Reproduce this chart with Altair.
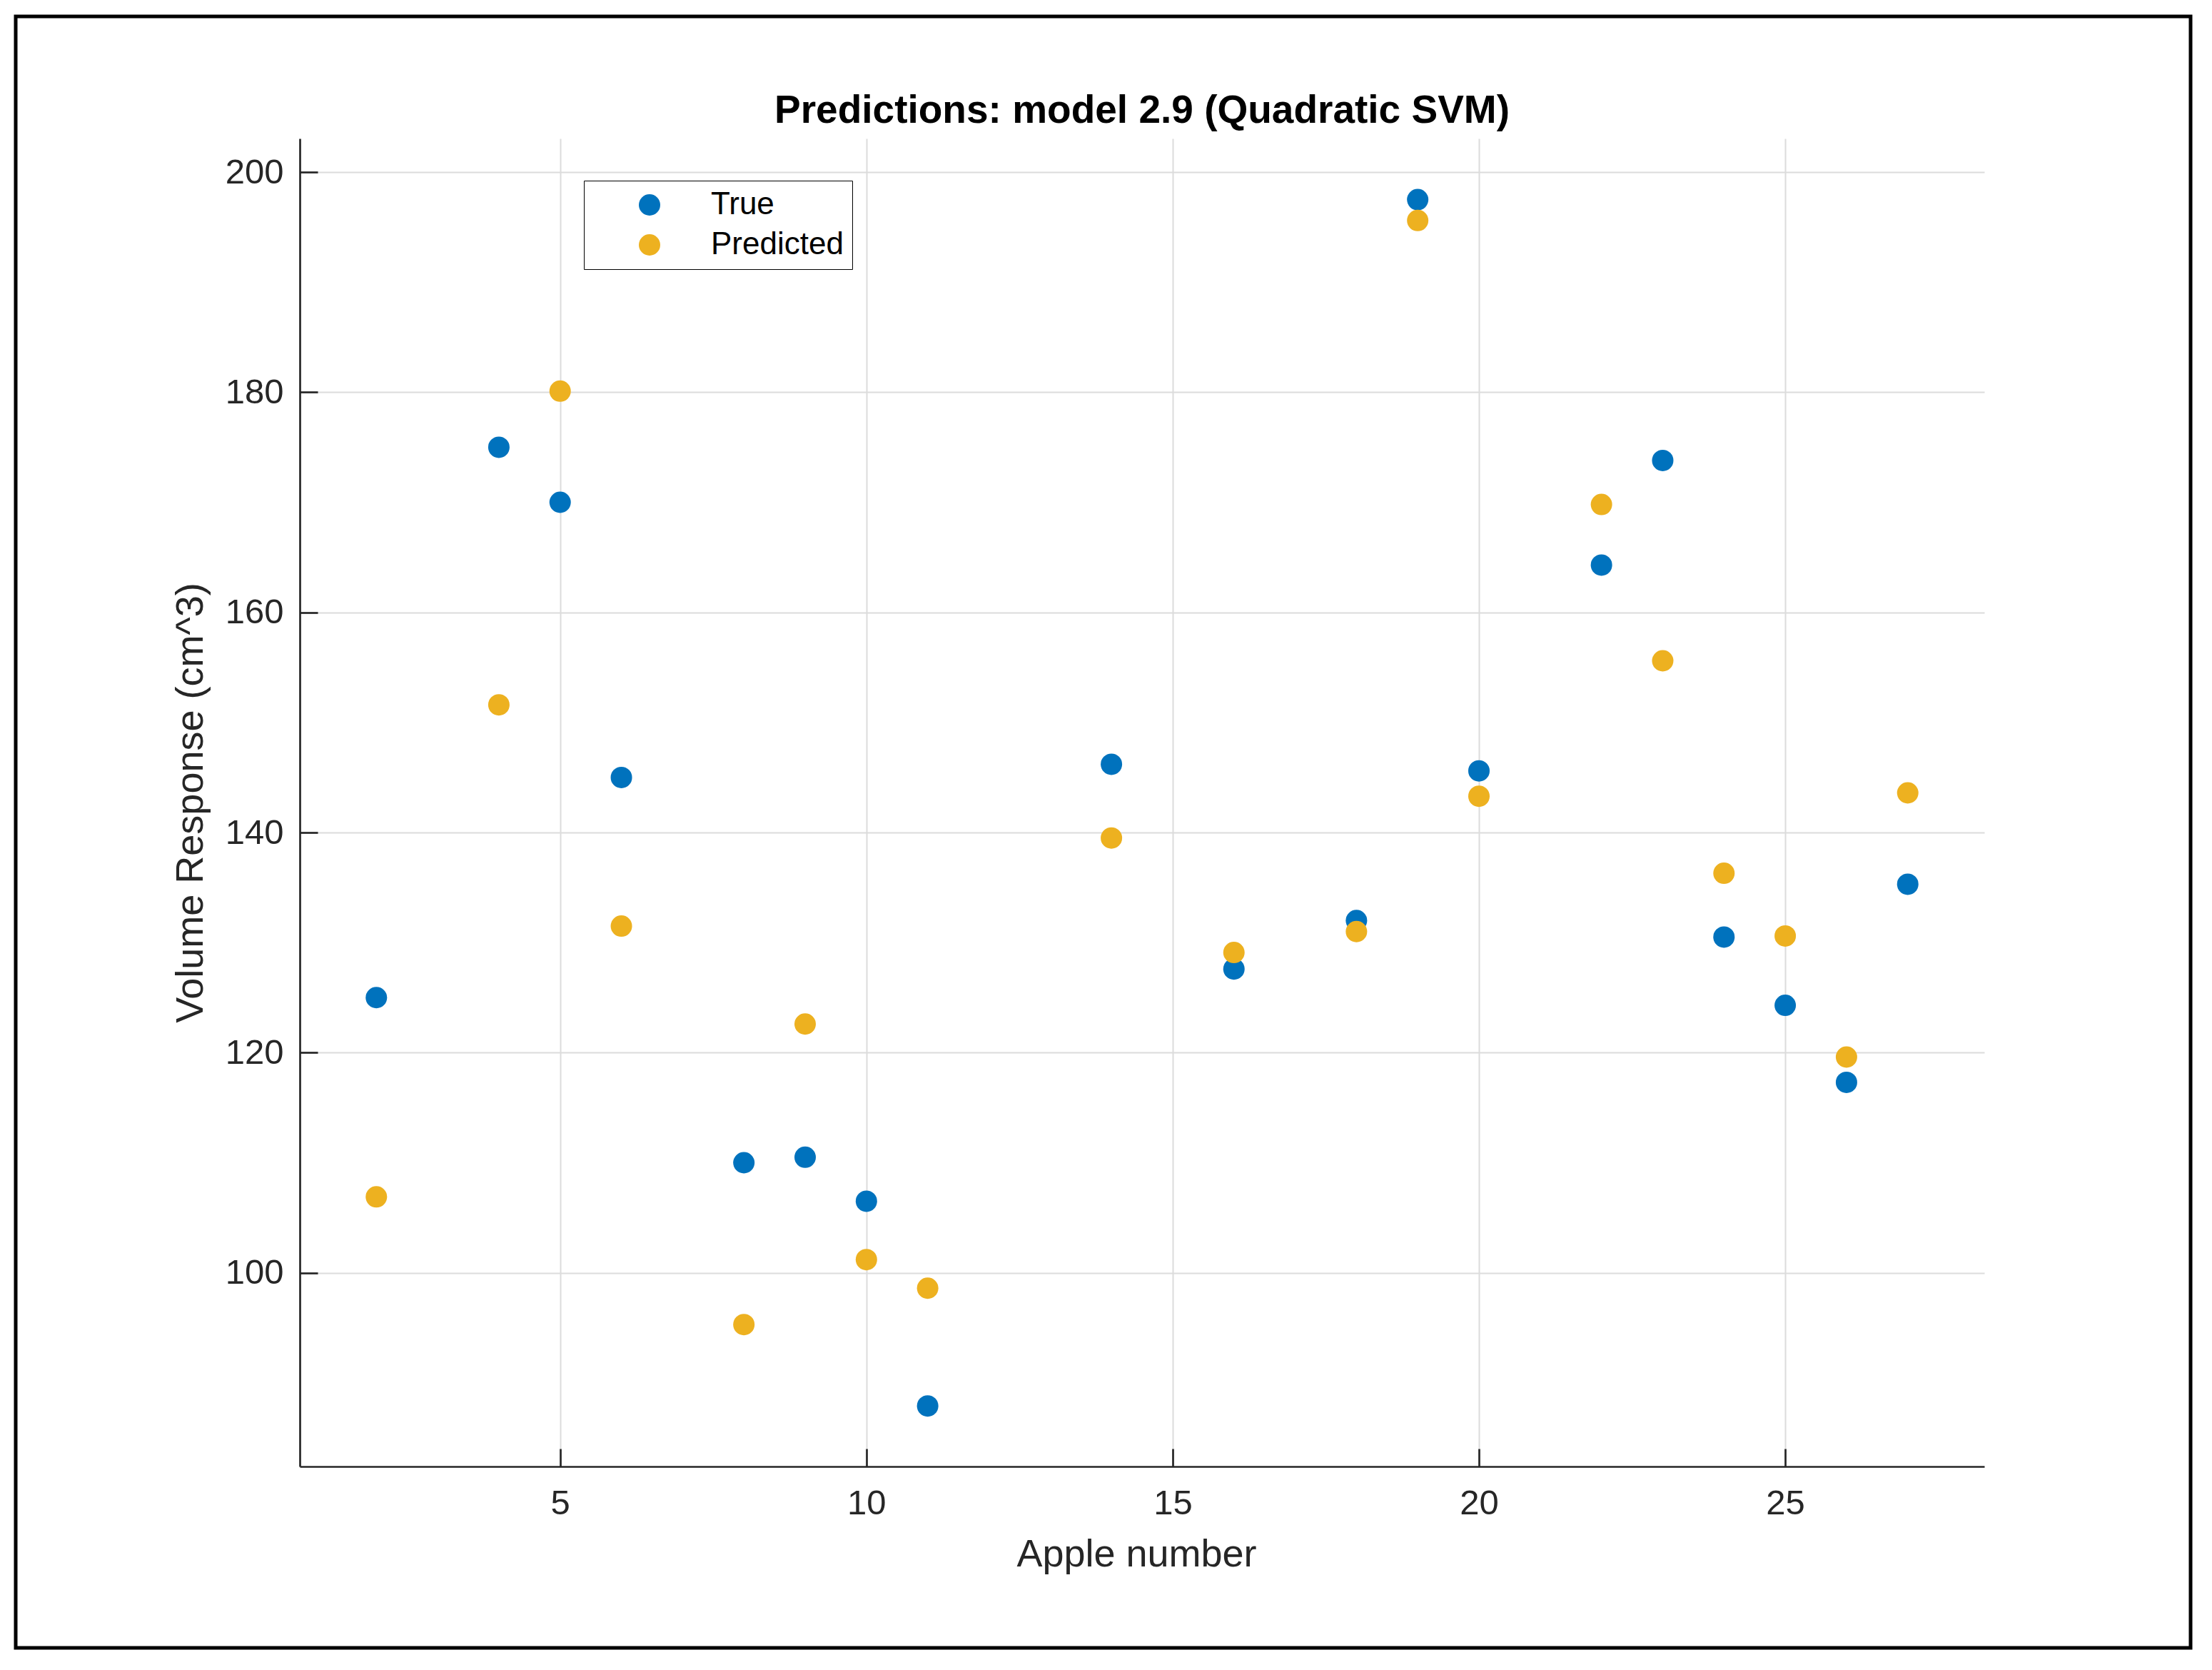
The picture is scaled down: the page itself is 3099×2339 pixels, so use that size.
import altair as alt
import pandas as pd

# ---- data ----
apple = [2, 4, 5, 6, 8, 9, 10, 11, 14, 16, 18, 19, 20, 22, 23, 24, 25, 26, 27]
true_vol = [125.0, 175.0, 170.0, 145.0, 110.0, 110.5, 106.5, 87.9, 146.2, 127.6,
            132.0, 197.5, 145.6, 164.3, 173.8, 130.5, 124.3, 117.3, 135.3]
pred_vol = [106.9, 151.6, 180.1, 131.5, 95.3, 122.6, 101.2, 98.6, 139.5, 129.1,
            131.0, 195.6, 143.3, 169.8, 155.6, 136.3, 130.6, 119.6, 143.6]
series_names = ["True", "Predicted"]
series_colors = ["#0072BD", "#EDB120"]
x_ticks = [5, 10, 15, 20, 25]
y_ticks = [100, 120, 140, 160, 180, 200]

rows = []
for name, vals in zip(series_names, [true_vol, pred_vol]):
    for a, v in zip(apple, vals):
        rows.append({"apple": a, "volume": v, "series": name})
df = pd.DataFrame(rows)

FONT = "Liberation Sans"
DARK = "#262626"
W, H = 2360, 1860

xscale = alt.Scale(domain=[0.75, 28.25], nice=False, zero=False)
yscale = alt.Scale(domain=[82.4, 203.05], nice=False, zero=False)

x_main = alt.Axis(values=x_ticks, orient="bottom", grid=True, gridColor="#dcdcdc", gridWidth=2,
                  domain=True, domainColor=DARK, domainWidth=2.7, ticks=False, tickSize=0,
                  labelFont=FONT, labelFontSize=49, labelColor=DARK, labelPadding=27,
                  title="Apple number", titleFont=FONT, titleFontSize=54, titleFontWeight="normal",
                  titleColor=DARK, titleX=1172, titleY=139, titleBaseline="alphabetic",
                  titleAlign="center", labelFlush=False)
y_main = alt.Axis(values=y_ticks, orient="left", grid=True, gridColor="#dcdcdc", gridWidth=2,
                  domain=True, domainColor=DARK, domainWidth=2.7, ticks=False, tickSize=0,
                  labelFont=FONT, labelFontSize=49, labelColor=DARK, labelPadding=23,
                  title="Volume Response (cm^3)", titleFont=FONT, titleFontSize=54,
                  titleFontWeight="normal", titleColor=DARK, titleX=-137, titleY=H / 2,
                  titleAngle=-90, titleBaseline="alphabetic", titleAlign="center",
                  labelFlush=False)

# inward ticks: a second axis pushed inside the plot
x_ticks_axis = alt.Axis(values=x_ticks, orient="bottom", offset=-25, tickSize=25, tickWidth=2.7,
                        tickColor=DARK, labels=False, domain=False, grid=False, title=None)
y_ticks_axis = alt.Axis(values=y_ticks, orient="left", offset=-25, tickSize=25, tickWidth=2.7,
                        tickColor=DARK, labels=False, domain=False, grid=False, title=None)

points = alt.Chart(df).mark_circle(size=900, opacity=1).encode(
    x=alt.X("apple:Q", scale=xscale, axis=x_main),
    y=alt.Y("volume:Q", scale=yscale, axis=y_main),
    color=alt.Color("series:N",
                    scale=alt.Scale(domain=series_names, range=series_colors),
                    legend=alt.Legend(title=None, orient="none", legendX=398, legendY=59,
                                      strokeColor="black", fillColor="white", padding=12,
                                      symbolType="circle", symbolSize=900, symbolStrokeWidth=0,
                                      symbolOffset=58, labelOffset=64, labelFont=FONT,
                                      labelFontSize=44, labelColor="black", labelLimit=0,
                                      rowPadding=12, cornerRadius=0)),
)

tick_layer = alt.Chart(df).mark_circle(opacity=0).encode(
    x=alt.X("apple:Q", scale=xscale, axis=x_ticks_axis),
    y=alt.Y("volume:Q", scale=yscale, axis=y_ticks_axis),
)

border = alt.Chart(pd.DataFrame({"k": [0]})).mark_rect(
    filled=False, stroke="black", strokeWidth=5
).encode(
    x=alt.value(-398), x2=alt.value(2649), y=alt.value(-171), y2=alt.value(2114)
)

chart = alt.layer(border, tick_layer, points).resolve_axis(
    x="independent", y="independent"
).properties(
    width=W, height=H,
    view=alt.ViewBackground(stroke="transparent", strokeWidth=0, fill="white"),
    title=alt.TitleParams("Predictions: model 2.9 (Quadratic SVM)", font=FONT, fontSize=55,
                          fontWeight="bold", color="black", anchor="middle", frame="group",
                          offset=-206, baseline="alphabetic"),
    autosize=alt.AutoSizeParams(type="none"),
    padding={"left": 412, "top": 186, "right": 300, "bottom": 270},
).configure_view(strokeWidth=0, stroke="transparent").configure_legend(
    strokeWidth=3, strokeColor="black"
).configure(background="white")

chart.save("out.html", embed_options={"renderer": "svg", "actions": False})
